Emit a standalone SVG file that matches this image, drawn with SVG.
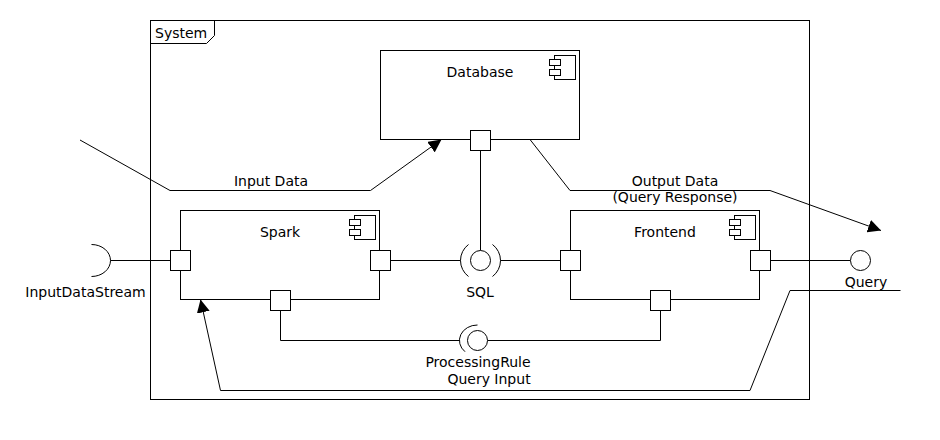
<svg xmlns="http://www.w3.org/2000/svg" width="940" height="440" viewBox="0 0 940 440">
<style>
  .ln { fill: none; stroke: #000; stroke-width: 1; }
  .box { fill: #fff; stroke: #000; stroke-width: 1; }
  .t { font-family: "DejaVu Sans", "Liberation Sans", sans-serif; font-size: 14px; fill: #000; }
  .c { text-anchor: middle; }
</style>
<defs>
  <marker id="arrow" markerUnits="userSpaceOnUse" viewBox="0 0 13 13" refX="13" refY="6.5" markerWidth="13" markerHeight="13" orient="auto">
    <path d="M0,0 L13,6.5 L0,13 Z" fill="#000"/>
  </marker>
</defs>
<rect width="940" height="440" fill="#fff"/>

<g id="frame">
  <rect class="ln" x="150.5" y="20.5" width="659" height="379"/>
  <path class="ln" d="M150.5,43.5 H206.5 L214.5,35.5 V20.5"/>
  <text class="t" x="155" y="37.5">System</text>
</g>

<g id="connectors">
  <path class="ln" d="M80,140 L170,190.5 L370.5,190.5 L441.5,139.5" marker-end="url(#arrow)"/>
  <path class="ln" d="M530,139.5 L570,190.5 L770,190.5 L881,230.5" marker-end="url(#arrow)"/>
  <path class="ln" d="M900.5,290.5 L790,290.5 L750,390.5 L220.5,390.5 L200.5,299.5" marker-end="url(#arrow)"/>
  <path class="ln" d="M110.5,260.5 H170.5"/>
  <path class="ln" d="M390.5,260.5 H460.5"/>
  <path class="ln" d="M500.5,260.5 H560.5"/>
  <path class="ln" d="M480.5,150.5 V250.5"/>
  <path class="ln" d="M770.5,260.5 H850.5"/>
  <path class="ln" d="M280.5,310.5 V340.5 H459.5"/>
  <path class="ln" d="M487.5,340.5 H660.5 V310.5"/>
  <text class="t c" x="271" y="186">Input Data</text>
  <text class="t c" x="675" y="185.5">Output Data</text>
  <text class="t c" x="675" y="201.5">(Query Response)</text>
  <text class="t c" x="489" y="383.5">Query Input</text>
</g>

<g id="database">
  <rect class="box" x="380.5" y="50.5" width="199" height="89"/>
  <rect class="box" x="554.5" y="55.5" width="21" height="24"/>
  <rect class="box" x="549.5" y="59.5" width="11" height="6"/>
  <rect class="box" x="549.5" y="69.5" width="11" height="6"/>
  <text class="t c" x="480" y="77">Database</text>
  <rect class="box" x="470.5" y="130.5" width="20" height="20"/>
</g>

<g id="spark">
  <rect class="box" x="180.5" y="210.5" width="199" height="89"/>
  <rect class="box" x="354.5" y="215.5" width="21" height="24"/>
  <rect class="box" x="349.5" y="219.5" width="11" height="6"/>
  <rect class="box" x="349.5" y="229.5" width="11" height="6"/>
  <text class="t c" x="280" y="237">Spark</text>
  <rect class="box" x="170.5" y="250.5" width="20" height="20"/>
  <rect class="box" x="370.5" y="250.5" width="20" height="20"/>
  <rect class="box" x="270.5" y="290.5" width="20" height="20"/>
</g>

<g id="frontend">
  <rect class="box" x="570.5" y="210.5" width="189" height="89"/>
  <rect class="box" x="734.5" y="215.5" width="21" height="24"/>
  <rect class="box" x="729.5" y="219.5" width="11" height="6"/>
  <rect class="box" x="729.5" y="229.5" width="11" height="6"/>
  <text class="t c" x="665" y="237">Frontend</text>
  <rect class="box" x="560.5" y="250.5" width="20" height="20"/>
  <rect class="box" x="750.5" y="250.5" width="20" height="20"/>
  <rect class="box" x="650.5" y="290.5" width="20" height="20"/>
</g>

<g id="inputdatastream">
  <path class="ln" d="M91.5,244.5 A19,16 0 0 1 91.5,276.5"/>
  <text class="t c" x="85.5" y="297">InputDataStream</text>
</g>

<g id="sql">
  <circle class="box" cx="480.5" cy="260.5" r="10"/>
  <path class="ln" d="M468.5,244.5 A20,20 0 0 0 468.5,276.5"/>
  <path class="ln" d="M492.5,244.5 A20,20 0 0 1 492.5,276.5"/>
  <text class="t c" x="480" y="297">SQL</text>
</g>

<g id="processingrule">
  <circle class="box" cx="477.5" cy="340.5" r="10"/>
  <path class="ln" d="M477.5,325 A18,15.5 0 0 0 465,351.7"/>
  <text class="t c" x="478" y="367">ProcessingRule</text>
</g>

<g id="query">
  <circle class="box" cx="860.5" cy="260.5" r="10"/>
  <text class="t c" x="866" y="286.5">Query</text>
</g>
</svg>
